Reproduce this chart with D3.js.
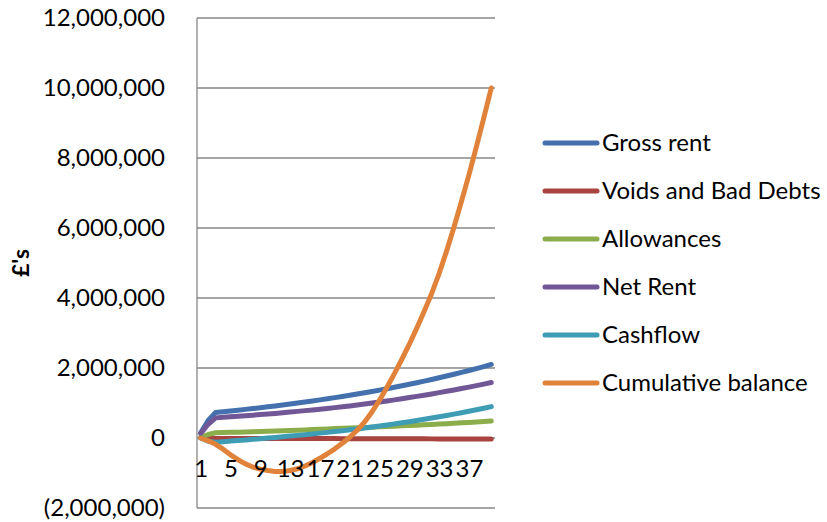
<!DOCTYPE html>
<html>
<head>
<meta charset="utf-8">
<script src="https://cdn.jsdelivr.net/npm/d3@7/dist/d3.min.js"></script>
<style>
  html, body { margin: 0; padding: 0; background: #fff; }
  svg { display: block; }
  text { font-family: Lato, "Open Sans", sans-serif; fill: #000; }
</style>
</head>
<body>
<svg id="chart" width="827" height="522"></svg>
<script>
// ---- data ----
const categories = [1,2,3,4,5,6,7,8,9,10,11,12,13,14,15,16,17,18,19,20,21,22,23,24,25,26,27,28,29,30,31,32,33,34,35,36,37,38,39,40];
const xTickLabels = [1,5,9,13,17,21,25,29,33,37];
const yTickValues = [-2000000,0,2000000,4000000,6000000,8000000,10000000,12000000];
const seriesNames = ["Gross rent","Voids and Bad Debts","Allowances","Net Rent","Cashflow","Cumulative balance"];

const grossRent = [150000,500000,730000,751000,773000,795000,818000,842000,867000,892000,917000,944000,971000,999000,1028000,1058000,1089000,1120000,1153000,1186000,1221000,1256000,1292000,1330000,1368000,1408000,1449000,1491000,1534000,1579000,1624000,1671000,1720000,1770000,1821000,1874000,1928000,1984000,2041000,2101000];
const voidsBadDebts = [0,-8000,-11000,-11000,-12000,-12000,-12000,-13000,-13000,-13000,-14000,-14000,-15000,-15000,-15000,-16000,-16000,-17000,-17000,-18000,-18000,-19000,-19000,-20000,-21000,-21000,-22000,-22000,-23000,-24000,-24000,-25000,-26000,-27000,-27000,-28000,-29000,-30000,-31000,-32000];
const allowances = [20000,100000,150000,156000,161000,167000,173000,180000,186000,193000,200000,208000,215000,223000,231000,240000,249000,258000,268000,278000,286000,294000,302000,310000,319000,328000,337000,347000,356000,366000,377000,387000,398000,409000,421000,433000,445000,457000,470000,483000];
const netRent = [130000,392000,575000,590000,605000,620000,636000,652000,669000,686000,703000,722000,741000,761000,782000,802000,824000,845000,868000,890000,917000,943000,971000,1000000,1028000,1059000,1090000,1122000,1155000,1189000,1223000,1259000,1296000,1334000,1373000,1413000,1454000,1497000,1540000,1586000];
const cashflow = [0,-90000,-120000,-104000,-88000,-72000,-55000,-38000,-20000,-2000,16000,35000,55000,75000,96000,117000,139000,161000,184000,207000,233000,259000,287000,315000,343000,373000,404000,435000,467000,500000,534000,569000,606000,644000,683000,723000,764000,807000,850000,896000];
const cumulativeBalance = [0,-80000,-180000,-320000,-480000,-620000,-740000,-830000,-890000,-930000,-955000,-955000,-930000,-880000,-800000,-700000,-580000,-450000,-310000,-150000,20000,220000,460000,750000,1080000,1450000,1840000,2250000,2680000,3140000,3620000,4130000,4700000,5340000,6030000,6760000,7520000,8320000,9150000,10000000];

const seriesValues = [grossRent, voidsBadDebts, allowances, netRent, cashflow, cumulativeBalance];
const seriesColors = ["#4471AE","#A8433F","#8CAD4B","#715795","#3F9CB5","#E0823A"];

// ---- layout ----
const svg = d3.select("#chart");
const plot = { left: 197, right: 495, top: 18, bottom: 508 };
const FS = 24;
const FONT = "Lato, 'Open Sans', sans-serif";

const x = d3.scalePoint().domain(categories).range([plot.left, plot.right]).padding(0.5);
const y = d3.scaleLinear().domain([-2000000, 12000000]).range([plot.bottom, plot.top]);

const fmt = v => v < 0 ? "(" + d3.format(",")(-v) + ")" : d3.format(",")(v);

// gridlines
svg.append("g").selectAll("line").data(yTickValues).join("line")
  .attr("x1", plot.left).attr("x2", plot.right)
  .attr("y1", d => y(d)).attr("y2", d => y(d))
  .attr("stroke", "#878787").attr("stroke-width", 1.3);

// vertical axis line
svg.append("line")
  .attr("x1", plot.left).attr("x2", plot.left)
  .attr("y1", plot.top).attr("y2", plot.bottom)
  .attr("stroke", "#878787").attr("stroke-width", 1.3);

// y axis labels
const yAxis = svg.append("g").attr("transform", `translate(${plot.left},0)`)
  .call(d3.axisLeft(y).tickValues(yTickValues).tickFormat(fmt).tickSize(0).tickPadding(32));
yAxis.select(".domain").remove();
yAxis.selectAll("text").style("font-size", FS + "px").style("font-family", FONT).attr("fill", "#000");

// y title
svg.append("text")
  .attr("transform", `translate(29,${(plot.top + plot.bottom) / 2}) rotate(-90)`)
  .attr("text-anchor", "middle")
  .style("font-size", "23px").style("font-weight", "bold")
  .text("£'s");

// lines
const line = d3.line().x((d, i) => x(categories[i])).y(d => y(d));
svg.append("g").selectAll("path").data(seriesValues).join("path")
  .attr("d", d => line(d))
  .attr("fill", "none")
  .attr("stroke", (d, i) => seriesColors[i])
  .attr("stroke-width", 5)
  .attr("stroke-linejoin", "round")
  .attr("stroke-linecap", "round");

// x axis labels at zero line
const xAxis = svg.append("g").attr("transform", `translate(0,${y(0)})`)
  .call(d3.axisBottom(x).tickValues(xTickLabels).tickSize(0).tickPadding(22));
xAxis.select(".domain").remove();
xAxis.selectAll("text").style("font-size", FS + "px").style("font-family", FONT).attr("fill", "#000");

// legend
const legend = svg.append("g");
seriesNames.forEach((name, i) => {
  const yy = 143 + i * 48;
  legend.append("line")
    .attr("x1", 545).attr("x2", 597).attr("y1", yy).attr("y2", yy)
    .attr("stroke", seriesColors[i]).attr("stroke-width", 5).attr("stroke-linecap", "round");
  legend.append("text")
    .attr("x", 602).attr("y", yy).attr("dy", "0.35em")
    .style("font-size", FS + "px")
    .text(name);
});
</script>
</body>
</html>
